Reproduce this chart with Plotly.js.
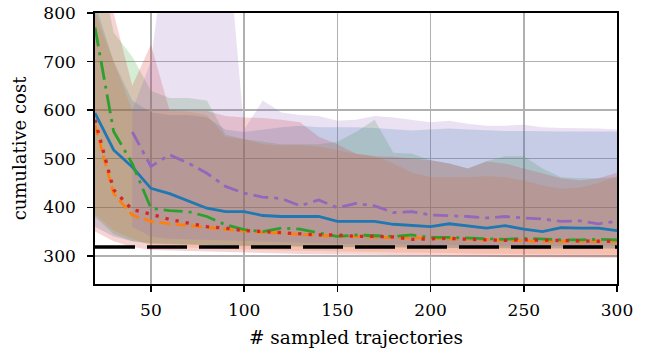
<!DOCTYPE html>
<html><head><meta charset="utf-8">
<script src="https://cdn.plot.ly/plotly-3.0.1.min.js"></script>
<style>html,body{margin:0;padding:0;background:#fff}</style>
</head><body><div id="chart" style="width:651px;height:356px"></div>
<script>
// sampled trajectories
const xs = [20,30,40,50,60,70,80,90,100,110,120,130,140,150,160,170,180,190,200,210,220,230,240,250,260,270,280,290,300];
const xsPurple = [40,50,60,70,80,90,100,110,120,130,140,150,160,170,180,190,200,210,220,230,240,250,260,270,280,290,300];

// mean cumulative cost
const blueMean   = [594,518,483,439,428,413,398,391,391,383,381,381,381,371,371,371,365,362,360,366,362,357,362,355,350,358,357,357,352];
const orangeMean = [570,428,384,371,366,362,358,355,351,348,347,344,342,340,340,338,337,337,336,335,333,332,331,331,330,330,330,330,330];
const greenMean  = [770,556,490,398,393,391,381,364,354,350,357,355,347,340,343,342,340,343,338,338,337,336,334,336,334,333,333,334,333];
const redMean    = [580,436,395,386,375,368,360,357,352,350,348,345,343,343,340,340,339,334,335,336,334,333,332,333,332,331,331,330,330];
const purpleMean = [555,484,508,491,470,443,429,421,418,403,415,399,408,403,389,391,384,383,381,378,381,378,376,371,372,366,371];

// band upper bounds
const blueUpper   = [820,700,620,595,590,590,585,560,555,560,565,568,565,565,565,563,560,558,560,562,560,558,557,557,556,556,556,556,556];
const orangeUpper = [800,700,600,598,597,597,590,545,540,530,527,528,525,518,510,505,490,471,462,462,462,464,462,455,445,438,440,450,464];
const greenUpper  = [950,760,710,640,625,625,620,550,540,535,530,530,530,535,555,580,512,510,497,490,480,495,505,505,480,462,460,460,462];
const redUpper    = [850,800,650,735,600,598,598,588,585,584,580,575,545,530,510,505,504,500,497,490,480,494,490,480,470,460,455,460,471];
const purpleUpper = [600,700,1000,1000,1000,1000,560,620,595,590,588,578,580,588,585,580,575,578,572,568,568,570,565,563,563,562,560];

// band lower bounds
const blueLower   = [360,340,330,325,324,323,322,321,320,320,319,319,318,318,318,317,317,317,316,316,316,316,315,315,315,315,315,315,315];
const orangeLower = [385,352,335,322,318,316,315,314,313,312,311,310,310,309,308,308,307,307,306,306,305,305,304,304,303,303,303,302,302];
const greenLower  = [380,345,330,326,325,324,323,322,321,320,320,319,319,318,318,318,317,317,317,316,316,316,316,315,315,315,315,315,315];
const redLower    = [350,330,318,312,310,309,308,307,306,305,305,304,303,303,302,302,301,300,300,299,298,298,297,297,296,296,296,296,296];
const purpleLower = [360,340,335,333,332,331,330,329,328,327,326,325,325,324,324,323,323,322,322,321,321,321,320,320,320,320,320];

const optimalCost = 318;

const C = {blue:'#1f77b4', orange:'#ff7f0e', green:'#2ca02c', red:'#d62728', purple:'#9467bd'};
const FA = {blue:'rgba(31,119,180,0.2)', orange:'rgba(255,127,14,0.2)', green:'rgba(44,160,44,0.2)', red:'rgba(214,39,40,0.2)', purple:'rgba(148,103,189,0.2)'};

function band(x, lo, hi, fc){
  return {x: x.concat(x.slice().reverse()), y: hi.concat(lo.slice().reverse()),
    type:'scatter', mode:'lines', fill:'toself', fillcolor: fc, line:{width:0, color:fc},
    hoverinfo:'skip', showlegend:false};
}
function line(x, y, color, dash, w){
  return {x:x, y:y, type:'scatter', mode:'lines', line:{color:color, width:w||2.8, dash:dash}, showlegend:false};
}

const data = [
  band(xs, blueLower, blueUpper, FA.blue),
  band(xs, orangeLower, orangeUpper, FA.orange),
  band(xs, greenLower, greenUpper, FA.green),
  band(xs, redLower, redUpper, FA.red),
  band(xsPurple, purpleLower, purpleUpper, FA.purple),
  line(xs, blueMean, C.blue, 'solid'),
  line(xs, orangeMean, C.orange, '11px,5px'),
  line(xs, greenMean, C.green, '19px,6px,3px,6px'),
  line(xs, redMean, C.red, '3.3px,7px', 3.3),
  line(xsPurple, purpleMean, C.purple, '15px,6px,4px,6px'),
  {x:[xs[0], xs[xs.length-1]], y:[optimalCost, optimalCost], type:'scatter', mode:'lines',
   line:{color:'#000', width:3.5, dash:'40px,12px'}, showlegend:false}
];

const tickFont = {family:'DejaVu Serif, serif', size:17, color:'#000'};
const titleFont = {family:'DejaVu Serif, serif', size:18, color:'#000'};
const axisCommon = {
  showline:true, linecolor:'#000', linewidth:1.8, mirror:true,
  ticks:'outside', ticklen:6, tickwidth:1.5, tickcolor:'#000',
  showgrid:true, gridcolor:'#b0b0b0', gridwidth:1.5, zeroline:false,
  tickfont:tickFont
};
const layout = {
  width:651, height:356,
  margin:{l:95, r:34, t:13, b:72},
  paper_bgcolor:'#fff', plot_bgcolor:'#fff',
  showlegend:false,
  xaxis: Object.assign({}, axisCommon, {range:[20,300], tickvals:[50,100,150,200,250,300],
    ticklabelstandoff:4,
    title:{text:'# sampled trajectories', font:{family:'DejaVu Serif, serif', size:18.5, color:'#000'}, standoff:12}}),
  yaxis: Object.assign({}, axisCommon, {range:[242,800], tickvals:[300,400,500,600,700,800],
    ticklabelstandoff:8,
    title:{text:'cumulative cost', font:titleFont, standoff:12}})
};
Plotly.newPlot('chart', data, layout, {staticPlot:true, displayModeBar:false});
</script></body></html>
